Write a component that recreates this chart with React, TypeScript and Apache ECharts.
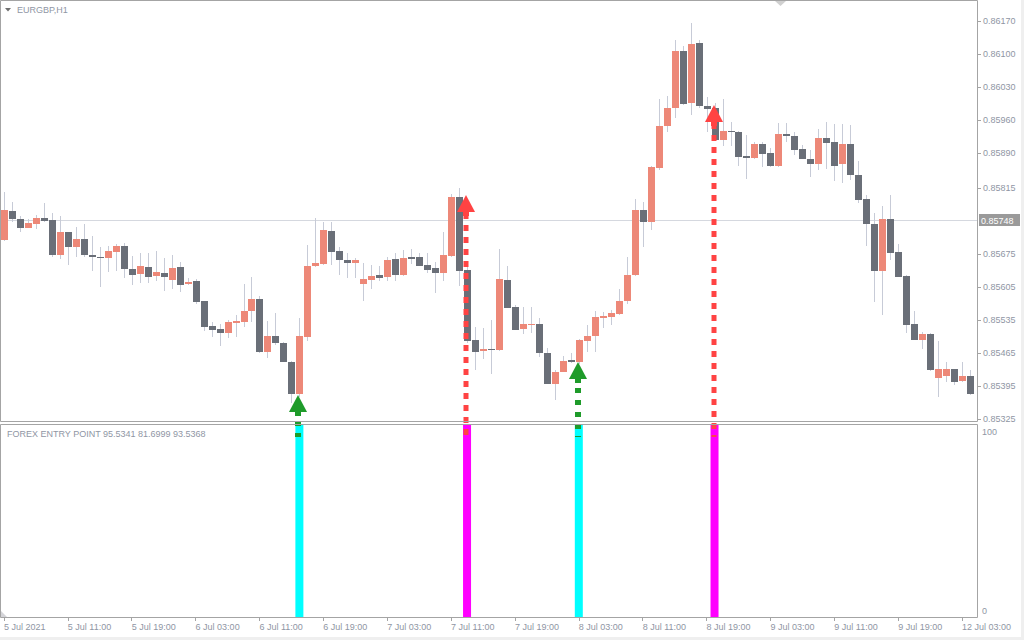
import React, { useEffect, useRef } from 'react';
import * as echarts from 'echarts';

const FONT = '"Liberation Sans", Arial, sans-serif';
const TEXT_COLOR = '#8f96a4';
const BORDER = '#a4a4a4';
const BULL = '#ed8878';
const BEAR = '#6a6f78';
const WICK = '#c7cbd7';
const GREEN = '#1e9b2a';
const RED = '#ff4343';

const symbolTitle = 'EURGBP,H1';
const indicatorLegend = 'FOREX ENTRY POINT 95.5341 81.6999 93.5368';

const xTickLabels = [
  '5 Jul 2021', '5 Jul 11:00', '5 Jul 19:00', '6 Jul 03:00', '6 Jul 11:00', '6 Jul 19:00',
  '7 Jul 03:00', '7 Jul 11:00', '7 Jul 19:00', '8 Jul 03:00', '8 Jul 11:00', '8 Jul 19:00',
  '9 Jul 03:00', '9 Jul 11:00', '9 Jul 19:00', '12 Jul 03:00',
];
const BARS_PER_LABEL = 8;

const opens = [
  0.85704, 0.85767, 0.85750, 0.85731, 0.85740, 0.85751, 0.85747, 0.85674, 0.85721, 0.85691,
  0.85707, 0.85673, 0.85670, 0.85667, 0.85680, 0.85693, 0.85644, 0.85632, 0.85648, 0.85628,
  0.85636, 0.85621, 0.85647, 0.85611, 0.85617, 0.85575, 0.85522, 0.85516, 0.85508, 0.85529,
  0.85532, 0.85554, 0.85580, 0.85468, 0.85502, 0.85487, 0.85447, 0.85379, 0.85500, 0.85650,
  0.85654, 0.85724, 0.85681, 0.85663, 0.85656, 0.85612, 0.85620, 0.85630, 0.85627, 0.85665,
  0.85630, 0.85669, 0.85669, 0.85652, 0.85646, 0.85634, 0.85672, 0.85796, 0.85641, 0.85492,
  0.85469, 0.85474, 0.85472, 0.85621, 0.85562, 0.85516, 0.85525, 0.85527, 0.85466, 0.85400,
  0.85425, 0.85451, 0.85445, 0.85491, 0.85502, 0.85539, 0.85541, 0.85547, 0.85575, 0.85630,
  0.85769, 0.85744, 0.85858, 0.85947, 0.85985, 0.86106, 0.85996, 0.86123, 0.85990, 0.85985,
  0.85917, 0.85936, 0.85935, 0.85883, 0.85879, 0.85909, 0.85890, 0.85863, 0.85931, 0.85926,
  0.85898, 0.85878, 0.85866, 0.85922, 0.85913, 0.85866, 0.85909, 0.85842, 0.85792, 0.85739,
  0.85640, 0.85750, 0.85679, 0.85628, 0.85526, 0.85492, 0.85506, 0.85413, 0.85417, 0.85431,
  0.85405, 0.85416,
];
const highs = [
  0.85807, 0.85786, 0.85756, 0.85750, 0.85759, 0.85784, 0.85762, 0.85756, 0.85722, 0.85733,
  0.85739, 0.85714, 0.85690, 0.85692, 0.85697, 0.85699, 0.85671, 0.85677, 0.85677, 0.85682,
  0.85667, 0.85673, 0.85658, 0.85624, 0.85622, 0.85576, 0.85532, 0.85527, 0.85536, 0.85546,
  0.85612, 0.85627, 0.85586, 0.85534, 0.85551, 0.85488, 0.85449, 0.85540, 0.85694, 0.85752,
  0.85743, 0.85743, 0.85690, 0.85677, 0.85667, 0.85656, 0.85652, 0.85650, 0.85669, 0.85677,
  0.85684, 0.85686, 0.85677, 0.85677, 0.85658, 0.85722, 0.85803, 0.85815, 0.85654, 0.85521,
  0.85519, 0.85536, 0.85686, 0.85650, 0.85567, 0.85563, 0.85563, 0.85540, 0.85476, 0.85430,
  0.85459, 0.85466, 0.85494, 0.85525, 0.85555, 0.85553, 0.85557, 0.85602, 0.85669, 0.85792,
  0.85786, 0.85862, 0.86004, 0.86011, 0.86130, 0.86117, 0.86166, 0.86130, 0.86009, 0.85996,
  0.86004, 0.85956, 0.85937, 0.85929, 0.85914, 0.85914, 0.85901, 0.85953, 0.85953, 0.85934,
  0.85907, 0.85896, 0.85941, 0.85956, 0.85951, 0.85951, 0.85949, 0.85873, 0.85801, 0.85763,
  0.85778, 0.85801, 0.85697, 0.85630, 0.85555, 0.85510, 0.85507, 0.85491, 0.85447, 0.85432,
  0.85447, 0.85428,
];
const lows = [
  0.85703, 0.85744, 0.85721, 0.85730, 0.85729, 0.85743, 0.85670, 0.85665, 0.85653, 0.85670,
  0.85670, 0.85640, 0.85606, 0.85638, 0.85640, 0.85625, 0.85610, 0.85614, 0.85614, 0.85619,
  0.85597, 0.85602, 0.85595, 0.85609, 0.85570, 0.85512, 0.85500, 0.85479, 0.85498, 0.85500,
  0.85521, 0.85530, 0.85466, 0.85455, 0.85482, 0.85445, 0.85360, 0.85372, 0.85491, 0.85648,
  0.85652, 0.85652, 0.85631, 0.85625, 0.85625, 0.85576, 0.85602, 0.85619, 0.85619, 0.85617,
  0.85628, 0.85655, 0.85649, 0.85634, 0.85593, 0.85619, 0.85670, 0.85608, 0.85487, 0.85430,
  0.85453, 0.85421, 0.85470, 0.85560, 0.85514, 0.85506, 0.85508, 0.85457, 0.85399, 0.85366,
  0.85424, 0.85444, 0.85441, 0.85468, 0.85468, 0.85519, 0.85525, 0.85546, 0.85570, 0.85629,
  0.85691, 0.85726, 0.85854, 0.85935, 0.85963, 0.85991, 0.85971, 0.85986, 0.85935, 0.85917,
  0.85905, 0.85905, 0.85863, 0.85835, 0.85878, 0.85859, 0.85861, 0.85859, 0.85914, 0.85886,
  0.85877, 0.85839, 0.85854, 0.85856, 0.85831, 0.85827, 0.85833, 0.85784, 0.85693, 0.85574,
  0.85546, 0.85663, 0.85626, 0.85508, 0.85492, 0.85474, 0.85427, 0.85372, 0.85404, 0.85398,
  0.85404, 0.85375,
];
const closes = [
  0.85769, 0.85750, 0.85731, 0.85741, 0.85752, 0.85746, 0.85674, 0.85722, 0.85691, 0.85707,
  0.85674, 0.85670, 0.85667, 0.85682, 0.85692, 0.85644, 0.85631, 0.85650, 0.85627, 0.85637,
  0.85627, 0.85646, 0.85610, 0.85616, 0.85574, 0.85521, 0.85515, 0.85508, 0.85530, 0.85534,
  0.85555, 0.85580, 0.85468, 0.85502, 0.85487, 0.85447, 0.85379, 0.85502, 0.85650, 0.85656,
  0.85726, 0.85680, 0.85663, 0.85656, 0.85662, 0.85622, 0.85629, 0.85625, 0.85663, 0.85631,
  0.85667, 0.85665, 0.85650, 0.85642, 0.85634, 0.85673, 0.85796, 0.85640, 0.85491, 0.85468,
  0.85474, 0.85472, 0.85622, 0.85561, 0.85515, 0.85527, 0.85527, 0.85466, 0.85400, 0.85425,
  0.85448, 0.85445, 0.85493, 0.85502, 0.85542, 0.85543, 0.85549, 0.85576, 0.85631, 0.85769,
  0.85744, 0.85860, 0.85947, 0.85985, 0.86106, 0.85994, 0.86121, 0.85990, 0.85984, 0.85918,
  0.85936, 0.85934, 0.85882, 0.85879, 0.85909, 0.85888, 0.85863, 0.85930, 0.85926, 0.85897,
  0.85878, 0.85867, 0.85922, 0.85912, 0.85863, 0.85909, 0.85842, 0.85791, 0.85738, 0.85640,
  0.85750, 0.85678, 0.85627, 0.85525, 0.85493, 0.85506, 0.85428, 0.85431, 0.85431, 0.85404,
  0.85416, 0.85379,
];

const yTicks = [0.85325, 0.85395, 0.85465, 0.85535, 0.85605, 0.85675, 0.85815, 0.85890, 0.85960, 0.86030, 0.86100, 0.86170];
const Y_MIN = 0.8532075;
const Y_MAX = 0.8621246;
const currentPrice = 0.85748;

const buyBars = [37, 72];
const buyArrowPrices = [0.85376, 0.85447];
const sellBars = [58, 89];
const sellArrowPrices = [0.85801, 0.85992];
const signalValue = 100;
const indicatorTicks = [0, 100];

const N = opens.length;
const categories = Array.from({ length: N }, (_, i) => String(i));
const candleData = opens.map((o, i) => [i, o, highs[i], lows[i], closes[i]]);
const signalData = [
  ...buyBars.map((b, i) => [b, buyArrowPrices[i], 0]),
  ...sellBars.map((b, i) => [b, sellArrowPrices[i], 1]),
];
const buyHist = categories.map((_, i) => (buyBars.includes(i) ? signalValue : '-'));
const sellHist = categories.map((_, i) => (sellBars.includes(i) ? signalValue : '-'));

const isLabelBar = (i: number) => i % BARS_PER_LABEL === 0;

function renderCandle(params: any, api: any) {
  const i = api.value(0);
  const o = api.value(1), h = api.value(2), l = api.value(3), c = api.value(4);
  const po = api.coord([i, o]);
  const cx = Math.round(po[0]);
  const yo = po[1];
  const yc = api.coord([i, c])[1];
  const yh = Math.round(api.coord([i, h])[1]);
  const yl = Math.round(api.coord([i, l])[1]);
  const top = Math.round(Math.min(yo, yc));
  const bot = Math.round(Math.max(yo, yc));
  return {
    type: 'group',
    children: [
      { type: 'rect', shape: { x: cx, y: yh, width: 1, height: Math.max(1, yl - yh) }, style: { fill: WICK } },
      { type: 'rect', shape: { x: cx - 3, y: top, width: 7, height: Math.max(1, bot - top) }, style: { fill: c >= o ? BULL : BEAR } },
    ],
  };
}

function renderSignal(params: any, api: any) {
  const i = api.value(0);
  const price = api.value(1);
  const kind = api.value(2);
  const p = api.coord([i, price]);
  const ax = Math.round(p[0]) - 1;
  const ay = Math.round(p[1]);
  const color = kind === 0 ? GREEN : RED;
  const bottom = params.coordSys.y + params.coordSys.height + 16;
  const start = kind === 0 ? ay + 26 : ay + 18;
  return {
    type: 'group',
    children: [
      {
        type: 'line',
        shape: { x1: ax, y1: start, x2: ax, y2: bottom },
        style: { stroke: color, lineWidth: kind === 0 ? 6 : 5, lineDash: kind === 0 ? [5, 7] : [6, 6], lineCap: 'butt' },
      },
      {
        type: 'polygon',
        shape: { points: [[ax, ay], [ax - 9, ay + 17], [ax + 9, ay + 17]] },
        style: { fill: color },
      },
      { type: 'rect', shape: { x: ax - 3, y: ay + 17, width: 6, height: 4 }, style: { fill: color } },
    ],
  };
}

const option: any = {
  animation: false,
  backgroundColor: '#ffffff',
  grid: [
    { left: -2, top: 1, width: 976, height: 420 },
    { left: -2, top: 425, width: 976, height: 192 },
  ],
  xAxis: [
    {
      type: 'category', gridIndex: 0, data: categories, boundaryGap: true,
      axisLine: { show: false }, axisTick: { show: false }, axisLabel: { show: false }, splitLine: { show: false },
    },
    {
      type: 'category', gridIndex: 1, data: categories, boundaryGap: true, position: 'bottom',
      axisLine: { show: false },
      axisTick: { show: true, alignWithLabel: true, interval: (i: number) => isLabelBar(i), length: 4, lineStyle: { color: BORDER } },
      axisLabel: {
        show: true, interval: (i: number) => isLabelBar(i),
        formatter: (_v: string, i: number) => (isLabelBar(i) ? xTickLabels[i / BARS_PER_LABEL] : ''),
        align: 'left', margin: 5, color: TEXT_COLOR, fontSize: 9, fontFamily: FONT,
      },
      splitLine: { show: false },
    },
  ],
  yAxis: [
    {
      type: 'value', gridIndex: 0, position: 'right', offset: 3, min: Y_MIN, max: Y_MAX,
      splitLine: { show: false }, axisLine: { show: false },
      axisTick: { show: true, length: 4, lineStyle: { color: BORDER }, customValues: yTicks },
      axisLabel: {
        show: true, customValues: yTicks, formatter: (v: number) => v.toFixed(5),
        margin: 6, color: TEXT_COLOR, fontSize: 9, fontFamily: FONT, padding: [3, 0, 0, 0],
      },
    },
    {
      type: 'value', gridIndex: 1, position: 'right', offset: 3, min: 0, max: 100,
      splitLine: { show: false }, axisLine: { show: false }, axisTick: { show: false }, axisLabel: { show: false },
    },
  ],
  series: [
    {
      type: 'custom', name: 'candles', xAxisIndex: 0, yAxisIndex: 0,
      data: candleData, encode: { x: 0, y: [1, 2, 3, 4] }, renderItem: renderCandle, z: 3,
    },
    {
      type: 'bar', name: 'buy', xAxisIndex: 1, yAxisIndex: 1, data: buyHist,
      barWidth: 8, barGap: '-100%', itemStyle: { color: '#00ffff' }, z: 2,
    },
    {
      type: 'bar', name: 'sell', xAxisIndex: 1, yAxisIndex: 1, data: sellHist,
      barWidth: 8, barGap: '-100%', itemStyle: { color: '#ff00ff' }, z: 2,
    },
    {
      type: 'custom', name: 'signals', xAxisIndex: 0, yAxisIndex: 0, clip: false,
      data: signalData, encode: { x: 0, y: 1 }, renderItem: renderSignal, z: 10,
    },
  ],
};

const staticGraphics: any[] = [
  { type: 'rect', z: 100, shape: { x: 0.5, y: 0.5, width: 977, height: 421 }, style: { fill: 'none', stroke: BORDER, lineWidth: 1 } },
  { type: 'rect', z: 100, shape: { x: 0.5, y: 424.5, width: 977, height: 193 }, style: { fill: 'none', stroke: BORDER, lineWidth: 1 } },
  { type: 'rect', z: 100, shape: { x: 1021, y: 0, width: 3, height: 640 }, style: { fill: '#efefef' } },
  { type: 'rect', z: 100, shape: { x: 0, y: 637, width: 1024, height: 3 }, style: { fill: '#efefef' } },
  { type: 'polygon', z: 100, shape: { points: [[5, 8], [11, 8], [8, 11.5]] }, style: { fill: '#6f6f6f' } },
  { type: 'polygon', z: 100, shape: { points: [[775, 1], [786, 1], [780.5, 6]] }, style: { fill: '#d0d0d0' } },
  { type: 'polygon', z: 100, shape: { points: [[1, 611], [1, 617], [7, 617]] }, style: { fill: '#d4d4d8' } },
  { type: 'text', z: 100, x: 17, y: 10, style: { text: symbolTitle, fill: TEXT_COLOR, fontSize: 9, fontFamily: FONT, verticalAlign: 'middle', align: 'left' } },
  { type: 'text', z: 100, x: 7, y: 434, style: { text: indicatorLegend, fill: TEXT_COLOR, fontSize: 9, fontFamily: FONT, verticalAlign: 'middle', align: 'left' } },
];

export default function App() {
  const ref = useRef<HTMLDivElement>(null);
  useEffect(() => {
    if (!ref.current) return;
    const chart = echarts.init(ref.current, null, { renderer: 'svg' });
    chart.setOption(option);
    const maxTick = Math.max(...indicatorTicks);
    const indLabels = indicatorTicks.map((v) => {
      const y = chart.convertToPixel({ yAxisIndex: 1 } as any, v) as number;
      return {
        type: 'text', z: 100, x: 982, y: v === maxTick ? y + 7 : y - 6,
        style: { text: String(v), fill: TEXT_COLOR, fontSize: 9, fontFamily: FONT, verticalAlign: 'middle', align: 'left' },
      };
    });
    const py = Math.round(chart.convertToPixel({ yAxisIndex: 0 } as any, currentPrice) as number) + 0.5;
    const priceLine = [
      { type: 'line', z: 1, shape: { x1: 1, y1: py, x2: 977, y2: py }, style: { stroke: '#d5d8df', lineWidth: 1 } },
      { type: 'rect', z: 100, shape: { x: 979, y: py - 6.5, width: 41, height: 12 }, style: { fill: '#9a9a9a' } },
      {
        type: 'text', z: 101, x: 981, y: py,
        style: { text: currentPrice.toFixed(5), fill: '#ffffff', fontSize: 9, fontFamily: FONT, verticalAlign: 'middle', align: 'left' },
      },
    ];
    chart.setOption({ graphic: { elements: [...priceLine, ...staticGraphics, ...indLabels] } });
    return () => chart.dispose();
  }, []);
  return (
    <div
      ref={ref}
      style={{ position: 'absolute', left: 0, top: 0, width: 1024, height: 640, background: '#ffffff' }}
    />
  );
}
